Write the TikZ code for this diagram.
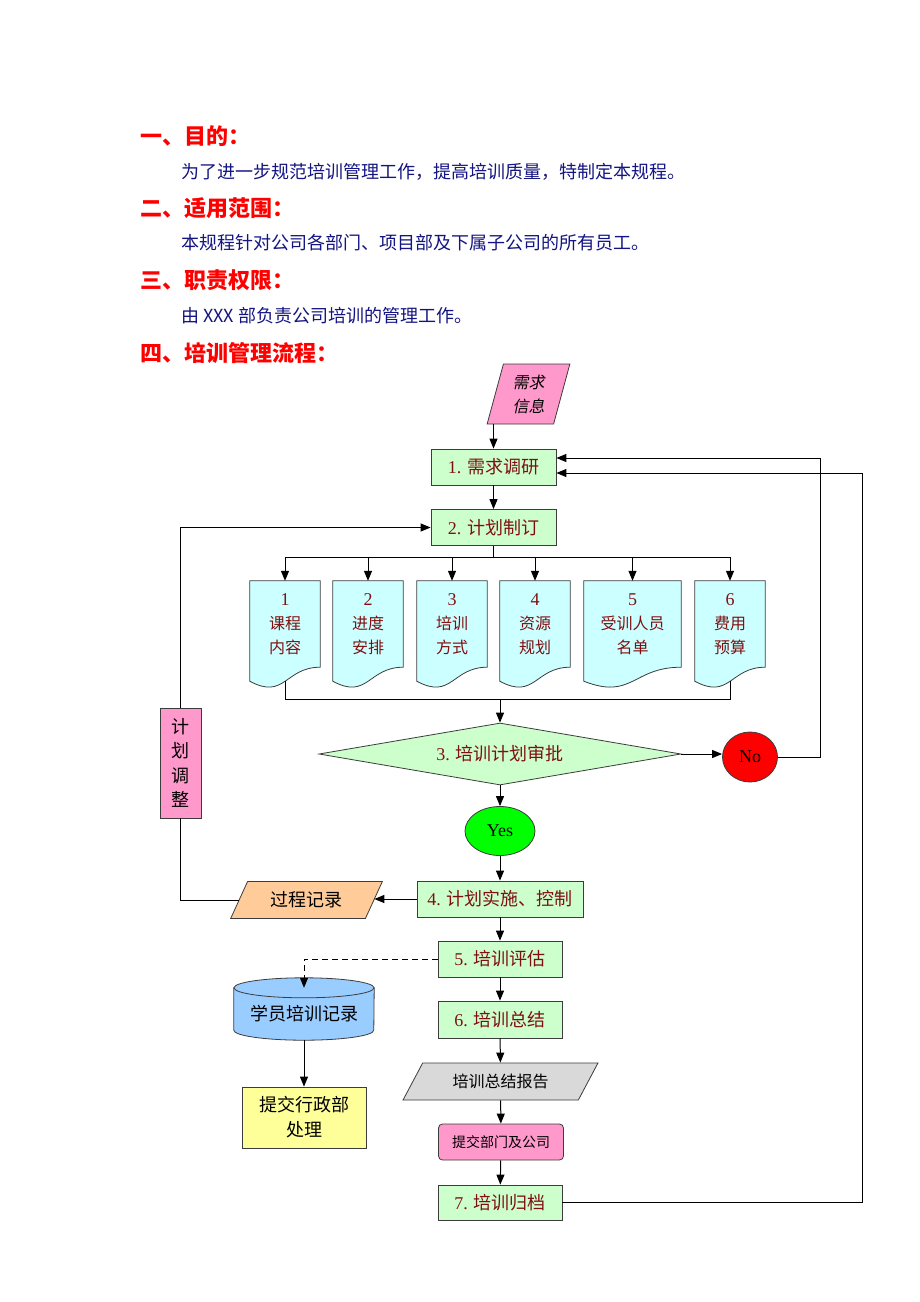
\documentclass[tikz,border=0pt]{standalone}
\usepackage{fontspec}
\setmainfont{Noto Sans CJK SC}
\newfontfamily\numfont{Liberation Serif}
\newfontfamily\slantcjk[FakeSlant=0.2]{Noto Sans CJK SC}
\usetikzlibrary{shapes.geometric, arrows.meta, calc, backgrounds}

\definecolor{headred}{RGB}{255,0,0}
\definecolor{bodyblue}{RGB}{20,20,130}
\definecolor{boxtext}{RGB}{128,16,16}
\definecolor{stepgreen}{RGB}{204,255,204}
\definecolor{doccyan}{RGB}{204,255,255}
\definecolor{pinkfill}{RGB}{255,153,204}
\definecolor{peach}{RGB}{255,204,153}
\definecolor{skyblue}{RGB}{153,204,255}
\definecolor{paleyellow}{RGB}{255,255,153}
\definecolor{reportgray}{RGB}{217,217,217}
\definecolor{yesgreen}{RGB}{0,255,0}
\definecolor{edgegray}{RGB}{60,60,60}

\newcommand\fsHead{\fontsize{22}{26}\selectfont\bfseries}
\newcommand\fsBody{\fontsize{18}{22}\selectfont}
\newcommand\fsBox{\fontsize{18}{25}\selectfont}
\newcommand\fsDoc{\fontsize{16}{24}\selectfont}

\tikzset{
  heading/.style={anchor=west, inner sep=0, text=headred, font=\fsHead},
  bodyline/.style={anchor=west, inner sep=0, text=bodyblue, font=\fsBody},
  stepbox/.style={draw=edgegray, fill=stepgreen, line width=0.8pt, text=boxtext,
    font=\fsBox, minimum height=36pt, inner sep=0},
  docnode/.style={minimum height=86pt, inner sep=0, text=boxtext, font=\fsDoc, align=center},
  docshape/.style={draw=edgegray, fill=doccyan, line width=0.8pt},
  slanted/.style={trapezium, trapezium stretches=true, draw=edgegray, line width=0.8pt, inner sep=0},
  wire/.style={line width=1pt},
  flow/.style={line width=1pt, -{Triangle[length=10pt,width=8pt]}}
}

\begin{document}
\begin{tikzpicture}[x=1pt,y=-1pt]
  \useasboundingbox (0,0) rectangle (920,1302);
  \begin{scope}[on background layer]
    \fill[white] (0,0) rectangle (920,1302);
  \end{scope}

  % text part
  \node[heading] (h1) at (140,136) {一、目的：};
  \node[bodyline] (t1) at (181,172) {为了进一步规范培训管理工作，提高培训质量，特制定本规程。};
  \node[heading] (h2) at (140,208) {二、适用范围：};
  \node[bodyline] (t2) at (181,243) {本规程针对公司各部门、项目部及下属子公司的所有员工。};
  \node[heading] (h3) at (140,280) {三、职责权限：};
  \node[bodyline] (t3) at (181,316) {由 XXX 部负责公司培训的管理工作。};
  \node[heading] (h4) at (140,353) {四、培训管理流程：};

  % main steps
  \node[slanted, trapezium left angle=75, trapezium right angle=105, fill=pinkfill,
    minimum width=83pt, minimum height=60pt, font=\fsDoc\slantcjk, align=center] (info) at (528.5,394) {需求\\信息};
  \node[stepbox, minimum width=125pt] (b1) at (493.5,467) {{\numfont 1. }需求调研};
  \node[stepbox, minimum width=125pt] (b2) at (493.5,527.5) {{\numfont 2. }计划制订};

  % plan items
  \node[docnode, minimum width=70pt] (d1) at (285,624) {{\numfont\fontsize{18}{24}\selectfont 1}\\课程\\内容};
  \node[docnode, minimum width=70pt] (d2) at (368,624) {{\numfont\fontsize{18}{24}\selectfont 2}\\进度\\安排};
  \node[docnode, minimum width=70pt] (d3) at (452,624) {{\numfont\fontsize{18}{24}\selectfont 3}\\培训\\方式};
  \node[docnode, minimum width=70pt] (d4) at (535,624) {{\numfont\fontsize{18}{24}\selectfont 4}\\资源\\规划};
  \node[docnode, minimum width=97pt] (d5) at (632.5,624) {{\numfont\fontsize{18}{24}\selectfont 5}\\受训人员\\名单};
  \node[docnode, minimum width=70pt] (d6) at (730,624) {{\numfont\fontsize{18}{24}\selectfont 6}\\费用\\预算};
  \begin{scope}[on background layer]
    \foreach \d in {d1,d2,d3,d4,d5,d6} {
      \filldraw[docshape] (\d.north west) -- (\d.north east) -- (\d.south east)
        .. controls (\d.south) and ($(\d.south)+(0,33)$) .. ($(\d.south west)+(0,14)$) -- cycle;
    }
  \end{scope}

  \node[diamond, aspect=5.84, minimum width=362pt, minimum height=62pt, inner sep=0,
    draw=edgegray, fill=stepgreen, line width=0.8pt, text=boxtext, font=\fsBox] (dia) at (500,754) {{\numfont 3. }培训计划审批};
  \node[ellipse, minimum width=55pt, minimum height=50pt, inner sep=0, draw=edgegray,
    fill=headred, line width=0.8pt, font=\fontsize{18}{20}\selectfont\numfont] (no) at (750,757) {No};
  \node[ellipse, minimum width=70pt, minimum height=49pt, inner sep=0, draw=edgegray,
    fill=yesgreen, line width=0.8pt, font=\fontsize{18}{20}\selectfont\numfont] (yes) at (500,831) {Yes};

  \node[draw=edgegray, fill=pinkfill, line width=0.8pt, minimum width=41pt, minimum height=110pt,
    inner sep=0, font=\fontsize{18}{24.5}\selectfont, align=center] (adj) at (180.5,763) {计\\划\\调\\整};

  \node[stepbox, minimum width=166pt] (b4) at (500,899) {{\numfont 4. }计划实施、控制};
  \node[slanted, trapezium left angle=58, trapezium right angle=122, fill=peach,
    minimum width=153pt, minimum height=37pt, font=\fsBox] (rec) at (306.5,900) {过程记录};
  \node[stepbox, minimum width=124pt] (b5) at (500,959) {{\numfont 5. }培训评估};
  \node[stepbox, minimum width=124pt, minimum height=37pt] (b6) at (500,1019.5) {{\numfont 6. }培训总结};
  \node[slanted, trapezium left angle=51, trapezium right angle=129, fill=reportgray,
    minimum width=195pt, minimum height=37pt, font=\fsDoc] (rep) at (500.5,1081.5) {培训总结报告};
  \node[draw=edgegray, fill=pinkfill, line width=0.8pt, rounded corners=4pt, minimum width=125pt,
    minimum height=36pt, inner sep=0, font=\fontsize{14}{17}\selectfont] (sub) at (501,1142) {提交部门及公司};
  \node[stepbox, minimum width=124pt, minimum height=35pt] (b7) at (500,1202.5) {{\numfont 7. }培训归档};

  % record store and admin box
  \node[minimum width=140pt, minimum height=52pt, inner sep=0, font=\fsBox] (cyl) at (304,1014) {学员培训记录};
  \begin{scope}[on background layer]
    \filldraw[draw=edgegray, fill=skyblue, line width=0.8pt] (cyl.north west) -- ($(cyl.south west)+(0,-10)$)
      arc[start angle=180, end angle=360, x radius=70pt, y radius=10pt] -- (cyl.north east) -- cycle;
    \filldraw[draw=edgegray, fill=skyblue, line width=0.8pt] (cyl.north) ellipse[x radius=70pt, y radius=10pt];
  \end{scope}
  \node[draw=edgegray, fill=paleyellow, line width=0.8pt, minimum width=124pt, minimum height=61pt,
    inner sep=0, font=\fsBox, align=center] (yel) at (304,1117.5) {提交行政部\\处理};

  % connectors
  \draw[flow] (info.south -| b1.north) -- (b1.north);
  \draw[flow] (b1) -- (b2);
  \coordinate (split) at (493.5,557);
  \draw[wire] (b2.south) -- (split);
  \draw[wire] (d1.north |- split) -- (d6.north |- split);
  \foreach \d in {d1,d2,d3,d4,d5,d6}
    \draw[flow] (\d.north |- split) -- (\d.north);
  \coordinate (join) at (500,699);
  \draw[wire] ($(d1.south)+(0,14)$) |- (join) -| ($(d6.south)+(0,14)$);
  \draw[flow] (join) -- (dia.north);
  \draw[flow] (dia.east) -- (no.west |- dia.east);
  \draw[flow] (dia.south) -- (yes.north);
  \coordinate (backno) at (820,458);
  \draw[flow] (no.east) -| (backno) -- (b1.east |- backno);
  \draw[flow] (yes.south) -- (b4.north);
  \draw[flow] (b4.west) -- (rec.east |- b4.west);
  \draw[wire] (rec.west) -| (adj.south);
  \draw[flow] (adj.north) |- (b2.west);
  \draw[flow] (b4) -- (b5);
  \draw[flow, dash pattern=on 6pt off 4pt] (b5.west) -| (cyl.north);
  \draw[flow] (cyl.south) -- (yel.north);
  \draw[flow] (b5) -- (b6);
  \draw[flow] (b6) -- (rep);
  \draw[flow] (rep) -- (sub);
  \draw[flow] (sub) -- (b7);
  \coordinate (backend) at (862,473);
  \draw[flow] (b7.east) -| (backend) -- (b1.east |- backend);
\end{tikzpicture}
\end{document}
